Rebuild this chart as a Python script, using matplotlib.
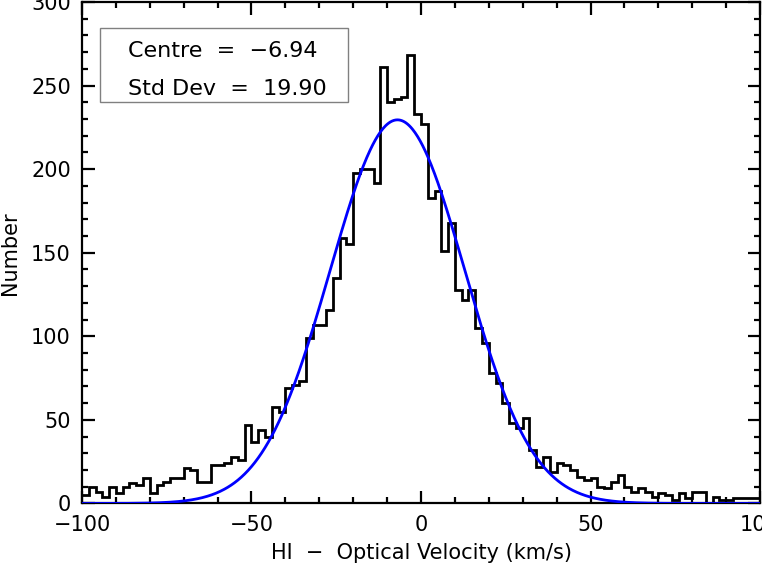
import matplotlib
matplotlib.use("Agg")
import matplotlib.pyplot as plt
import numpy as np
from matplotlib.patches import Rectangle
from matplotlib.ticker import MultipleLocator

# histogram of HI - optical velocity, 2 km/s bins from -100 to 100
bin_edges = np.arange(-100, 101, 2)
counts = [5, 10, 7, 4, 10, 6, 10, 12, 11, 15,
          6, 11, 13, 15, 15, 21, 20, 13, 13, 23,
          23, 24, 28, 26, 47, 37, 44, 40, 58, 55,
          69, 71, 73, 99, 107, 107, 116, 135, 159, 155,
          198, 200, 200, 192, 261, 240, 242, 243, 268, 233,
          227, 183, 187, 151, 168, 128, 122, 128, 105, 96,
          78, 72, 60, 48, 45, 51, 32, 22, 28, 19,
          24, 23, 20, 16, 14, 15, 10, 9, 13, 17,
          10, 7, 9, 7, 4, 6, 5, 2, 6, 3,
          7, 7, 0, 4, 2, 2, 3, 3, 3, 3]

# gaussian fit parameters
centre = -6.94
std_dev = 19.90
amplitude = 229.5

plt.rcParams['font.family'] = ['DejaVu Sans']
plt.rcParams['font.size'] = 15

fig = plt.figure(figsize=(7.62, 5.70), dpi=100)
ax = fig.add_axes([0.1076, 0.1167, 0.8898, 0.8798])

ax.stairs(counts, bin_edges, baseline=None, color='black', linewidth=2.0, zorder=3)

xfit = np.linspace(-100, 100, 801)
yfit = amplitude * np.exp(-(xfit - centre) ** 2 / (2 * std_dev ** 2))
ax.plot(xfit, yfit, color='#0000ff', linewidth=2.0, zorder=4)

ax.set_xlim(-100, 100)
ax.set_ylim(0, 300)
ax.xaxis.set_major_locator(MultipleLocator(50))
ax.xaxis.set_minor_locator(MultipleLocator(10))
ax.yaxis.set_major_locator(MultipleLocator(50))
ax.yaxis.set_minor_locator(MultipleLocator(10))
ax.tick_params(which='both', direction='in', top=True, right=True, width=1.6)
ax.tick_params(which='major', length=9, pad=8)
ax.tick_params(which='minor', length=4.5)
for s in ax.spines.values():
    s.set_linewidth(1.6)

ax.set_xlabel('HI  \u2212  Optical Velocity (km/s)', labelpad=6)
ax.set_ylabel('Number', labelpad=8)

# stats box
ax.add_patch(Rectangle((0.0265, 0.8006), 0.3655, 0.1474, transform=ax.transAxes,
                       facecolor='white', edgecolor='#808080', linewidth=1.0, zorder=5))
ax.text(0.068, 0.902, 'Centre  =  \u22126.94', transform=ax.transAxes,
        ha='left', va='center', fontsize=16, zorder=6)
ax.text(0.068, 0.826, 'Std Dev  =  19.90', transform=ax.transAxes,
        ha='left', va='center', fontsize=16, zorder=6)

fig.savefig('out.png', dpi=100)
